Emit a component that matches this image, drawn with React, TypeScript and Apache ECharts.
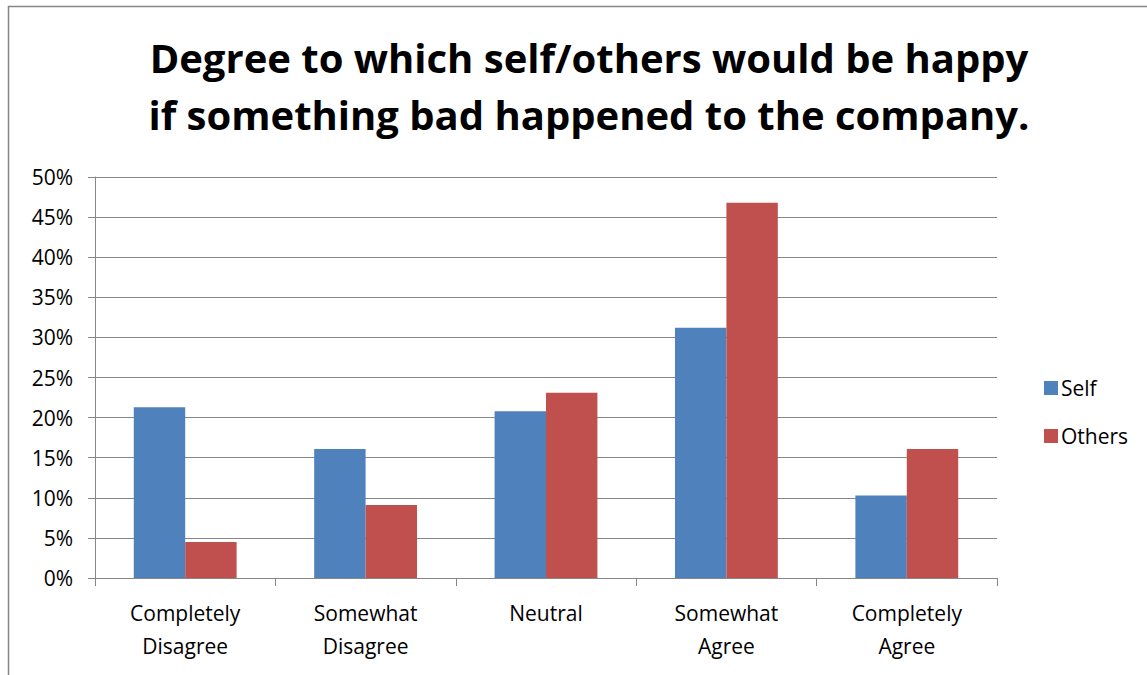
import React, { useEffect, useRef } from "react";
import * as echarts from "echarts";

const categories = ["Completely\nDisagree", "Somewhat\nDisagree", "Neutral", "Somewhat\nAgree", "Completely\nAgree"];
const selfValues = [21.3, 16.1, 20.8, 31.2, 10.3];
const othersValues = [4.5, 9.1, 23.1, 46.8, 16.1];
const titleLines = ["Degree to which self/others would be happy", "if something bad happened to the company."];

const FONT = "'Open Sans', 'Noto Sans', sans-serif";

export default function App() {
  const ref = useRef<HTMLDivElement>(null);
  useEffect(() => {
    const chart = echarts.init(ref.current!, null, { renderer: "svg" });
    chart.setOption({
      animation: false,
      backgroundColor: "#ffffff",
      textStyle: { fontFamily: FONT },
      title: {
        text: titleLines.join("\n"),
        left: 584,
        textAlign: "center",
        top: 24,
        textStyle: { fontFamily: FONT, fontWeight: "bold", fontSize: 40, lineHeight: 57, color: "#000" },
      },
      graphic: [
        {
          type: "rect",
          shape: { x: 8.5, y: 6.5, width: 1300, height: 800 },
          style: { fill: "none", stroke: "#868686", lineWidth: 1.5 },
          silent: true,
        },
      ],
      legend: {
        orient: "vertical",
        left: 1039,
        top: 372,
        itemWidth: 14,
        itemHeight: 14,
        itemGap: 26,
        icon: "rect",
        textStyle: { fontFamily: FONT, fontSize: 21, lineHeight: 22, color: "#000", padding: [0, 0, 0, -2] },
        data: ["Self", "Others"],
      },
      grid: { left: 95, right: 150, top: 177, bottom: 97, containLabel: false },
      xAxis: {
        type: "category",
        data: categories,
        axisLine: { lineStyle: { color: "#868686", width: 1 } },
        axisTick: { show: true, alignWithLabel: false, length: 8, lineStyle: { color: "#868686" } },
        axisLabel: { fontFamily: FONT, fontSize: 21, color: "#000", lineHeight: 33, margin: 18, interval: 0 },
      },
      yAxis: {
        type: "value",
        min: 0,
        max: 50,
        interval: 5,
        axisLine: { show: true, lineStyle: { color: "#868686", width: 1 } },
        axisTick: { show: true, length: 7, lineStyle: { color: "#868686" } },
        splitLine: { lineStyle: { color: "#868686", width: 1 } },
        axisLabel: { fontFamily: FONT, fontSize: 21, color: "#000", margin: 22, formatter: "{value}%" },
      },
      series: [
        {
          name: "Self",
          type: "bar",
          data: selfValues,
          barGap: "0%",
          barCategoryGap: "43%",
          itemStyle: { color: "#4F81BD" },
        },
        {
          name: "Others",
          type: "bar",
          data: othersValues,
          barGap: "0%",
          barCategoryGap: "43%",
          itemStyle: { color: "#C0504D" },
        },
      ],
    });
    return () => chart.dispose();
  }, []);
  return (
    <div
      ref={ref}
      style={{ position: "absolute", left: 0, top: 0, width: 1147, height: 675 }}
    />
  );
}
